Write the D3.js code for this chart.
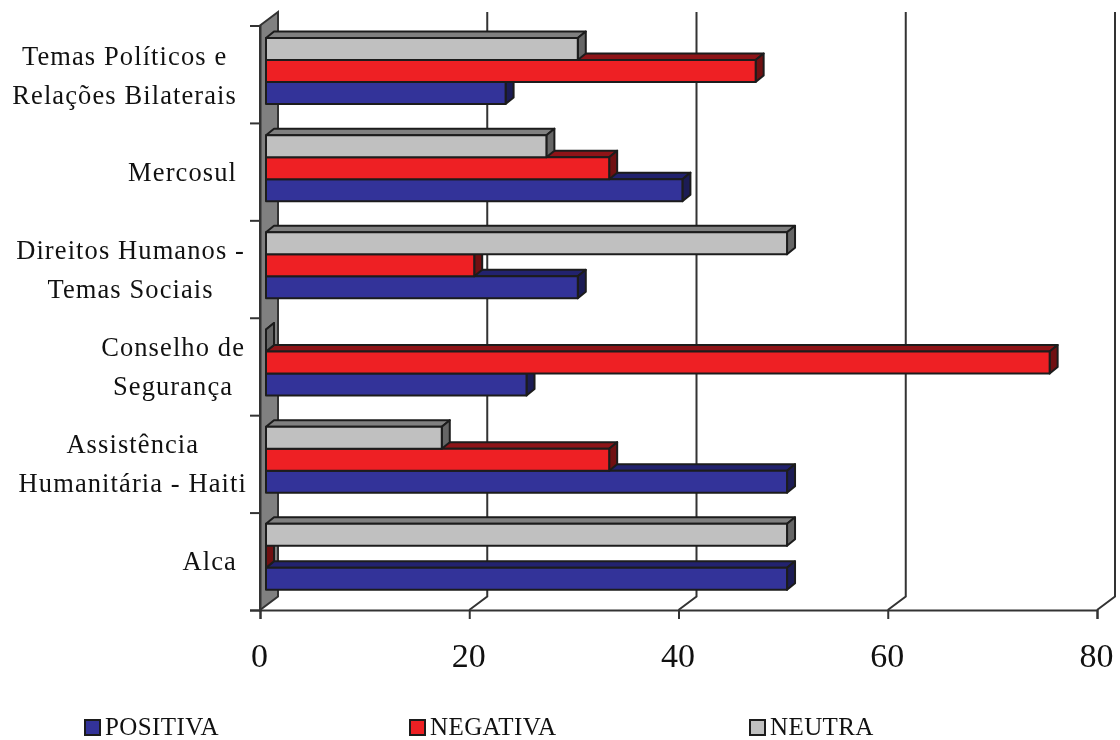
<!DOCTYPE html>
<html lang="pt">
<head>
<meta charset="utf-8">
<title>Temas</title>
<script src="https://cdn.jsdelivr.net/npm/d3@7"></script>
<style>
    html, body { margin: 0; background: #fff; }
    svg { display: block; filter: blur(0.4px); }
    text { font-family: "Liberation Serif", serif; fill: #111; }
</style>
</head>
<body>
<svg></svg>
<script>
    const categories = ["Temas Políticos e Relações Bilaterais", "Mercosul", "Direitos Humanos - Temas Sociais",
        "Conselho de Segurança", "Assistência Humanitária - Haiti", "Alca"];
    const labelLines = [["Temas Políticos e", "Relações Bilaterais"], ["Mercosul"], ["Direitos Humanos -", "Temas Sociais"],
        ["Conselho de", "Segurança"], ["Assistência", "Humanitária - Haiti"], ["Alca"]];
    const positiva = [22.9, 39.8, 29.8, 24.9, 49.8, 49.8];
    const negativa = [46.8, 32.8, 19.9, 74.9, 32.8, 0];
    const neutra = [29.8, 26.8, 49.8, 0, 16.8, 49.8];
    const xTicks = [0, 20, 40, 60, 80];

    // right edge of each label block, the original has trailing spaces on some
    const labelRight = [237, 237, 245, 245, 247, 237];

    // drawn lowest bar first so the upper one covers its top face
    const series = [
        {name: "POSITIVA", values: positiva, front: "#333399", top: "#22226e", side: "#1c1c55", legendX: 85},
        {name: "NEGATIVA", values: negativa, front: "#ee2024", top: "#8e1418", side: "#701012", legendX: 410},
        {name: "NEUTRA", values: neutra, front: "#c0c0c0", top: "#808080", side: "#666666", legendX: 750}
    ];

    const width = 1120, height = 740;
    const chart = {left: 260, right: 1097, top: 25.5, bottom: 610};
    const wall = {dx: 18, dy: -13.5};
    const bar = {inset: 6, dx: 8, dy: -6.5};
    const ink = "#1c1c1c";

    const svg = d3.select("svg").attr("width", width).attr("height", height);

    const xScale = d3.scaleLinear().domain([0, 80]).range([chart.left, chart.right]);
    const yTicks = d3.scaleLinear().domain([0, categories.length]).range([chart.bottom, chart.top]);
    const yScale = d3.scaleBand().domain(categories).range([chart.top, chart.bottom - 1.5]);
    const barScale = d3.scaleBand()
        .domain(["NEUTRA", "NEGATIVA", "POSITIVA"])
        .range([12.5, 78.5]);

    // side wall
    svg.append("polygon")
        .attr("points", [[chart.left, chart.top], [chart.left + wall.dx, chart.top + wall.dy],
            [chart.left + wall.dx, chart.bottom + wall.dy], [chart.left, chart.bottom]].join(" "))
        .attr("fill", "#808080")
        .attr("stroke", "#333")
        .attr("stroke-width", 2);

    // gridlines on the back, with the little diagonal down to the floor
    svg.append("g")
        .selectAll("path")
        .data(xTicks.slice(1))
        .join("path")
        .attr("fill", "none")
        .attr("stroke", "#333")
        .attr("stroke-width", 2)
        .attr("d", d => `M${xScale(d) + wall.dx},${chart.top + wall.dy}V${chart.bottom + wall.dy}L${xScale(d)},${chart.bottom}`);

    const xAxis = d3.axisBottom(xScale).tickValues(xTicks).tickSize(9).tickPadding(39);
    const gx = svg.append("g")
        .attr("transform", `translate(0,${chart.bottom})`)
        .call(xAxis);
    gx.selectAll("text").attr("font-size", 34).attr("dx", -1).attr("dy", "0.25em")
        .style("font-family", "'Liberation Serif', serif");

    const yAxis = d3.axisLeft(yTicks).ticks(categories.length).tickSize(10).tickFormat("");
    svg.append("g")
        .attr("transform", `translate(${chart.left},0)`)
        .call(yAxis);

    svg.selectAll(".domain, .tick line").attr("stroke", "#333").attr("stroke-width", 2);

    // bars, bottom category first
    const barLength = v => xScale(v) - xScale(0);
    const barsLayer = svg.append("g").attr("stroke", ink).attr("stroke-width", 2).attr("stroke-linejoin", "round");

    categories.slice().reverse().forEach(cat => {
        const i = categories.indexOf(cat);
        series.forEach(s => {
            const x0 = xScale(0) + bar.inset;
            const x1 = x0 + barLength(s.values[i]);
            const y0 = yScale(cat) + barScale(s.name);
            const y1 = y0 + barScale.bandwidth();
            barsLayer.append("polygon")
                .attr("points", [[x0, y0], [x0 + bar.dx, y0 + bar.dy], [x1 + bar.dx, y0 + bar.dy], [x1, y0]].join(" "))
                .attr("fill", s.top);
            barsLayer.append("polygon")
                .attr("points", [[x1, y0], [x1 + bar.dx, y0 + bar.dy], [x1 + bar.dx, y1 + bar.dy], [x1, y1]].join(" "))
                .attr("fill", s.side);
            if (s.values[i] > 0) {
                barsLayer.append("rect")
                    .attr("x", x0)
                    .attr("y", y0)
                    .attr("width", x1 - x0)
                    .attr("height", y1 - y0)
                    .attr("fill", s.front);
            }
        });
    });

    // category labels, each line centred inside its block
    const lineHeight = 39;
    categories.forEach((cat, i) => {
        const lines = labelLines[i];
        const centre = yScale(cat) + yScale.bandwidth() / 2;
        const texts = svg.append("g")
            .selectAll("text")
            .data(lines)
            .join("text")
            .attr("font-size", 26.5)
            .attr("letter-spacing", 1.1)
            .attr("text-anchor", "start")
            .attr("y", (d, j) => centre + (j - (lines.length - 1) / 2) * lineHeight + 10)
            .text(d => d);
        const widths = texts.nodes().map(n => n.getComputedTextLength());
        const blockWidth = d3.max(widths);
        texts.attr("x", (d, j) => labelRight[i] - blockWidth + (blockWidth - widths[j]) / 2);
    });

    // legend
    const legend = svg.append("g")
        .selectAll("g")
        .data(series)
        .join("g")
        .attr("transform", d => `translate(${d.legendX},720)`);
    legend.append("rect")
        .attr("width", 15)
        .attr("height", 15)
        .attr("fill", d => d.front)
        .attr("stroke", ink)
        .attr("stroke-width", 2);
    legend.append("text")
        .attr("x", 20)
        .attr("y", 15)
        .attr("font-size", 25)
        .attr("letter-spacing", 0.4)
        .text(d => d.name);
</script>
</body>
</html>
